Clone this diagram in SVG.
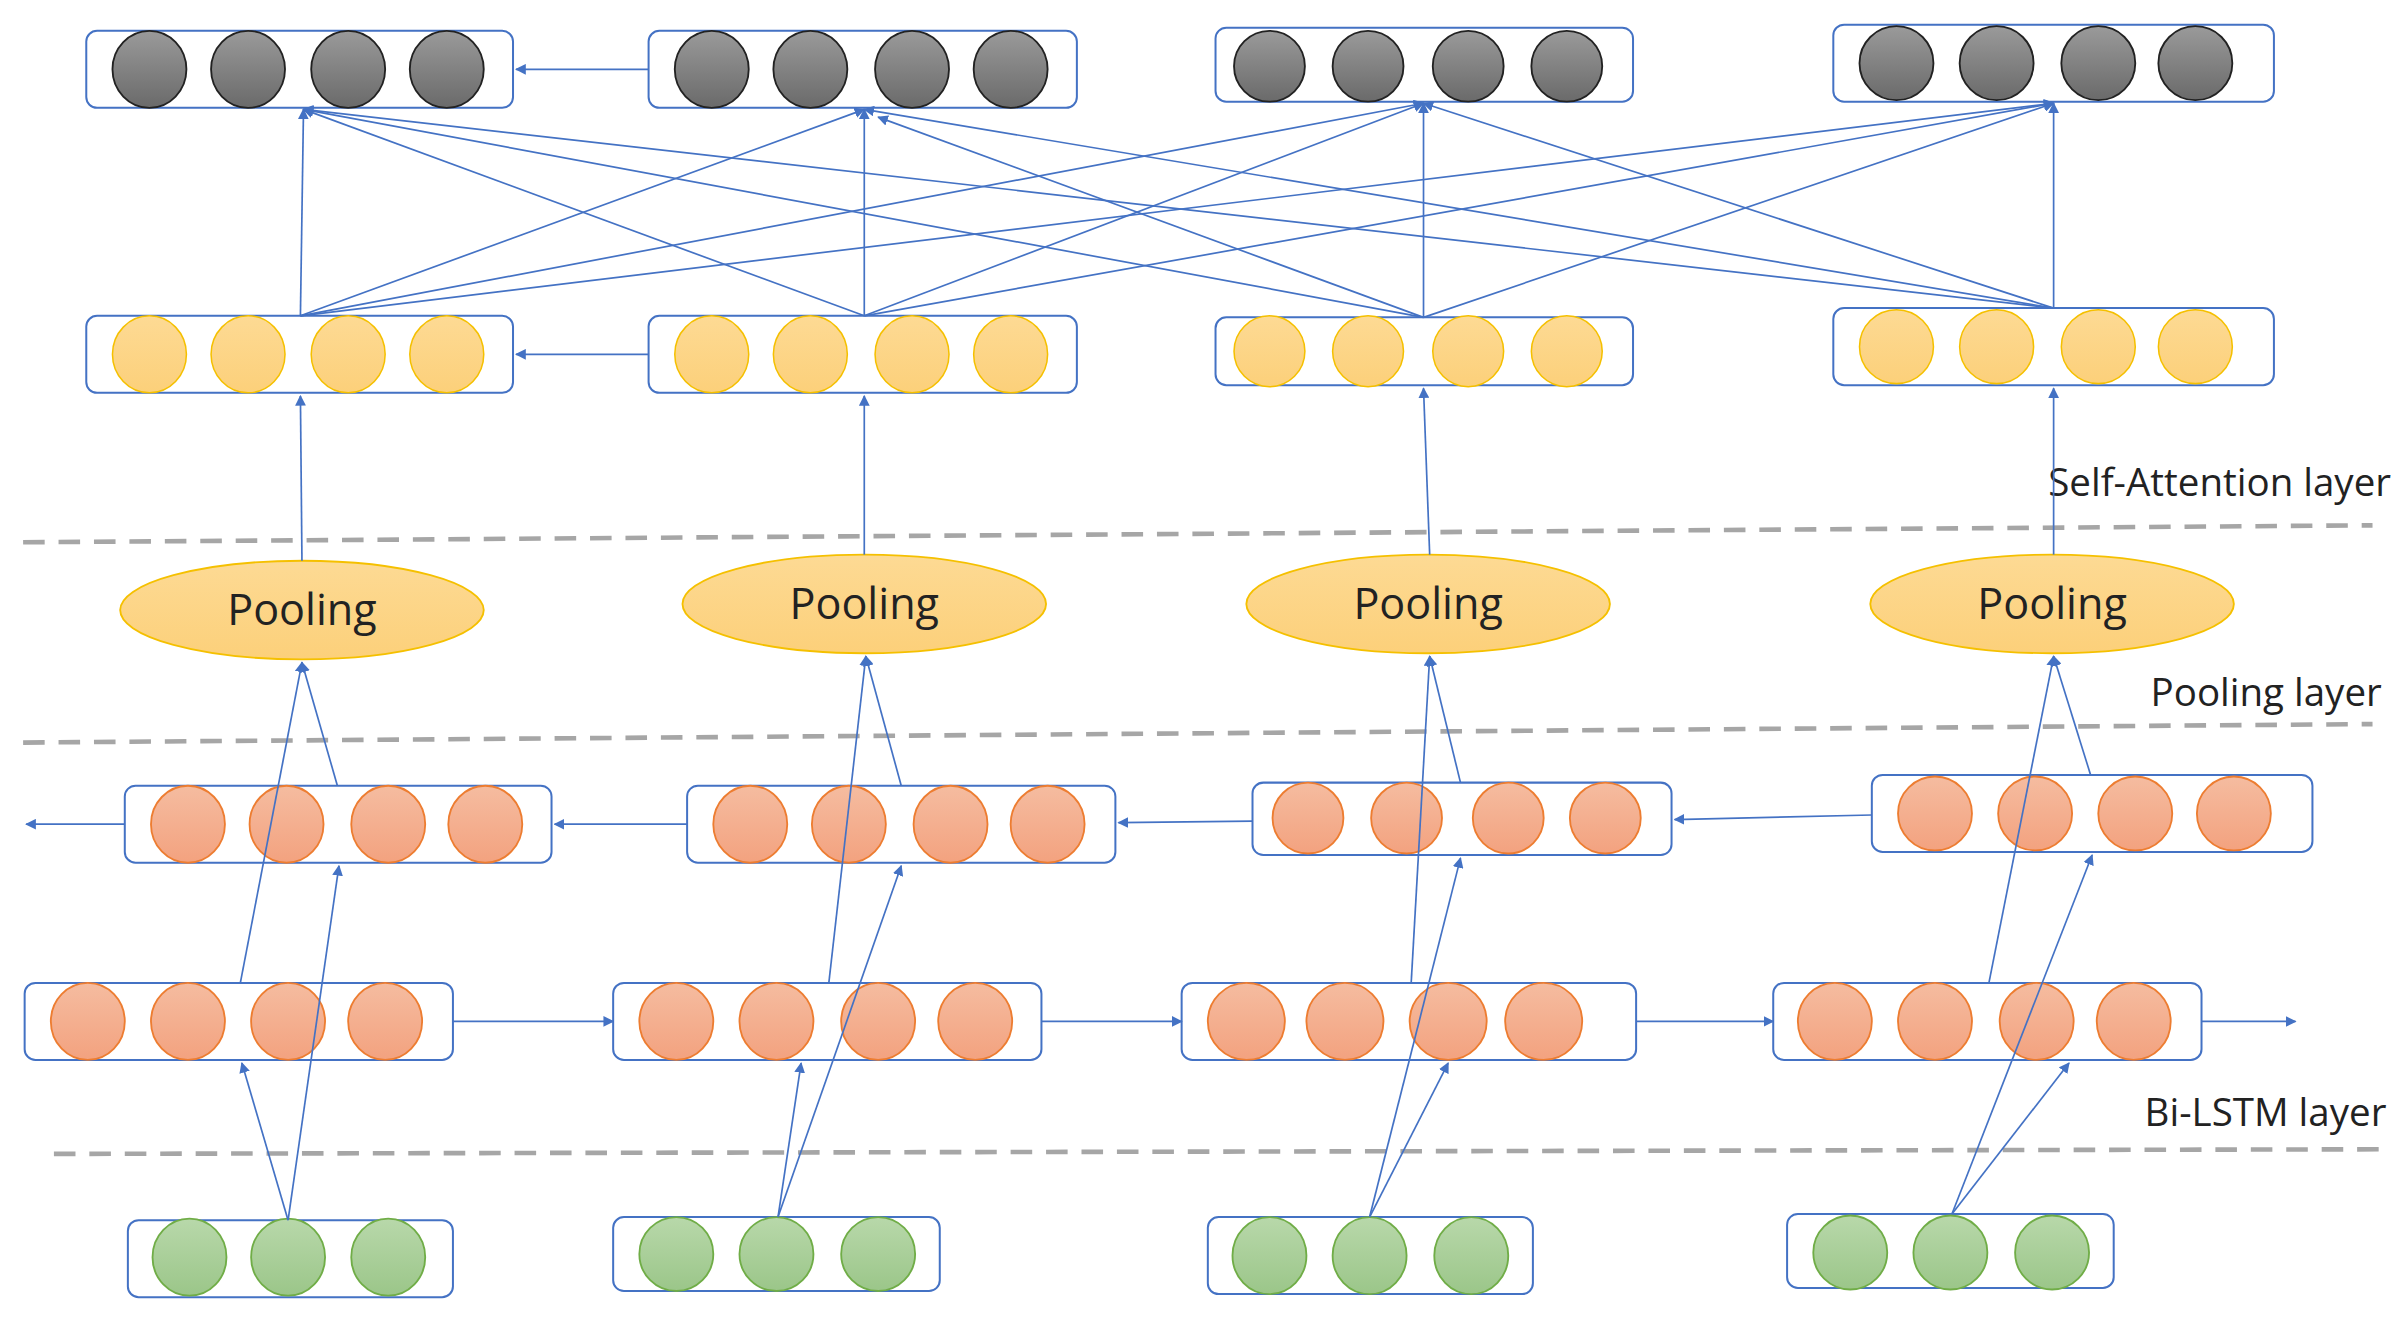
<svg xmlns="http://www.w3.org/2000/svg" width="2408" height="1323" viewBox="0 0 2408 1323">
<defs>
<linearGradient id="gg" x1="0" y1="0" x2="0" y2="1"><stop offset="0" stop-color="#9a9a9a"/><stop offset="1" stop-color="#6a6a6a"/></linearGradient>
<linearGradient id="gy" x1="0" y1="0" x2="0" y2="1"><stop offset="0" stop-color="#fdda94"/><stop offset="1" stop-color="#fcd07a"/></linearGradient>
<linearGradient id="go" x1="0" y1="0" x2="0" y2="1"><stop offset="0" stop-color="#f5bca0"/><stop offset="1" stop-color="#f3a27f"/></linearGradient>
<linearGradient id="gn" x1="0" y1="0" x2="0" y2="1"><stop offset="0" stop-color="#b8d8aa"/><stop offset="1" stop-color="#9bc689"/></linearGradient>
<marker id="a" viewBox="0 0 10 10" refX="9" refY="5" markerWidth="7" markerHeight="7" markerUnits="userSpaceOnUse" orient="auto"><path d="M0,0L10,5L0,10z" fill="#4472c4"/></marker>
</defs>
<style>
.box{fill:#fff;stroke:#4472c4;stroke-width:1.3}
.g{fill:url(#gg);stroke:#222;stroke-width:1.2}
.y{fill:url(#gy);stroke:#f5c000;stroke-width:1}
.o{fill:url(#go);stroke:#ed7d31;stroke-width:1.2}
.n{fill:url(#gn);stroke:#70ad47;stroke-width:1.2}
.pool{fill:url(#gy);stroke:#f5c000;stroke-width:1.2}
.c line{stroke:#4472c4;stroke-width:1.1;marker-end:url(#a)}
.d{stroke:#a6a6a6;stroke-width:3;stroke-dasharray:14 9;fill:none}
text{font-family:"Open Sans","Liberation Sans",sans-serif;fill:#222}
.pt{font-size:28px;text-anchor:middle}
.lt{font-size:25px;text-anchor:end}
</style>
<g transform="scale(1.5406)">
<g id="dividers">
<path class="d" d="M15,352L1540,341"/>
<path class="d" d="M15,482L1540,470"/>
<path class="d" d="M35,749L1550,746"/>
</g>
<g id="labels">
<text class="lt" x="1552" y="322">Self-Attention layer</text>
<text class="lt" x="1546" y="458">Pooling layer</text>
<text class="lt" x="1549" y="731">Bi-LSTM layer</text>
</g>
<g id="gray1"><rect class="box" x="56" y="20" width="277" height="50" rx="7"/><ellipse class="g" cx="97" cy="45" rx="24" ry="25"/><ellipse class="g" cx="161" cy="45" rx="24" ry="25"/><ellipse class="g" cx="226" cy="45" rx="24" ry="25"/><ellipse class="g" cx="290" cy="45" rx="24" ry="25"/></g>
<g id="gray2"><rect class="box" x="421" y="20" width="278" height="50" rx="7"/><ellipse class="g" cx="462" cy="45" rx="24" ry="25"/><ellipse class="g" cx="526" cy="45" rx="24" ry="25"/><ellipse class="g" cx="592" cy="45" rx="24" ry="25"/><ellipse class="g" cx="656" cy="45" rx="24" ry="25"/></g>
<g id="gray3"><rect class="box" x="789" y="18" width="271" height="48" rx="7"/><ellipse class="g" cx="824" cy="43" rx="23" ry="23"/><ellipse class="g" cx="888" cy="43" rx="23" ry="23"/><ellipse class="g" cx="953" cy="43" rx="23" ry="23"/><ellipse class="g" cx="1017" cy="43" rx="23" ry="23"/></g>
<g id="gray4"><rect class="box" x="1190" y="16" width="286" height="50" rx="7"/><ellipse class="g" cx="1231" cy="41" rx="24" ry="24"/><ellipse class="g" cx="1296" cy="41" rx="24" ry="24"/><ellipse class="g" cx="1362" cy="41" rx="24" ry="24"/><ellipse class="g" cx="1425" cy="41" rx="24" ry="24"/></g>
<g id="yel1"><rect class="box" x="56" y="205" width="277" height="50" rx="7"/><ellipse class="y" cx="97" cy="230" rx="24" ry="25"/><ellipse class="y" cx="161" cy="230" rx="24" ry="25"/><ellipse class="y" cx="226" cy="230" rx="24" ry="25"/><ellipse class="y" cx="290" cy="230" rx="24" ry="25"/></g>
<g id="yel2"><rect class="box" x="421" y="205" width="278" height="50" rx="7"/><ellipse class="y" cx="462" cy="230" rx="24" ry="25"/><ellipse class="y" cx="526" cy="230" rx="24" ry="25"/><ellipse class="y" cx="592" cy="230" rx="24" ry="25"/><ellipse class="y" cx="656" cy="230" rx="24" ry="25"/></g>
<g id="yel3"><rect class="box" x="789" y="206" width="271" height="44" rx="7"/><ellipse class="y" cx="824" cy="228" rx="23" ry="23"/><ellipse class="y" cx="888" cy="228" rx="23" ry="23"/><ellipse class="y" cx="953" cy="228" rx="23" ry="23"/><ellipse class="y" cx="1017" cy="228" rx="23" ry="23"/></g>
<g id="yel4"><rect class="box" x="1190" y="200" width="286" height="50" rx="7"/><ellipse class="y" cx="1231" cy="225" rx="24" ry="24"/><ellipse class="y" cx="1296" cy="225" rx="24" ry="24"/><ellipse class="y" cx="1362" cy="225" rx="24" ry="24"/><ellipse class="y" cx="1425" cy="225" rx="24" ry="24"/></g>
<g id="pool1"><ellipse class="pool" cx="196" cy="396" rx="118" ry="32"/><text class="pt" x="196" y="406">Pooling</text></g>
<g id="pool2"><ellipse class="pool" cx="561" cy="392" rx="118" ry="32"/><text class="pt" x="561" y="402">Pooling</text></g>
<g id="pool3"><ellipse class="pool" cx="927" cy="392" rx="118" ry="32"/><text class="pt" x="927" y="402">Pooling</text></g>
<g id="pool4"><ellipse class="pool" cx="1332" cy="392" rx="118" ry="32"/><text class="pt" x="1332" y="402">Pooling</text></g>
<g id="bwd1"><rect class="box" x="81" y="510" width="277" height="50" rx="7"/><ellipse class="o" cx="122" cy="535" rx="24" ry="25"/><ellipse class="o" cx="186" cy="535" rx="24" ry="25"/><ellipse class="o" cx="252" cy="535" rx="24" ry="25"/><ellipse class="o" cx="315" cy="535" rx="24" ry="25"/></g>
<g id="bwd2"><rect class="box" x="446" y="510" width="278" height="50" rx="7"/><ellipse class="o" cx="487" cy="535" rx="24" ry="25"/><ellipse class="o" cx="551" cy="535" rx="24" ry="25"/><ellipse class="o" cx="617" cy="535" rx="24" ry="25"/><ellipse class="o" cx="680" cy="535" rx="24" ry="25"/></g>
<g id="bwd3"><rect class="box" x="813" y="508" width="272" height="47" rx="7"/><ellipse class="o" cx="849" cy="531" rx="23" ry="23"/><ellipse class="o" cx="913" cy="531" rx="23" ry="23"/><ellipse class="o" cx="979" cy="531" rx="23" ry="23"/><ellipse class="o" cx="1042" cy="531" rx="23" ry="23"/></g>
<g id="bwd4"><rect class="box" x="1215" y="503" width="286" height="50" rx="7"/><ellipse class="o" cx="1256" cy="528" rx="24" ry="24"/><ellipse class="o" cx="1321" cy="528" rx="24" ry="24"/><ellipse class="o" cx="1386" cy="528" rx="24" ry="24"/><ellipse class="o" cx="1450" cy="528" rx="24" ry="24"/></g>
<g id="fwd1"><rect class="box" x="16" y="638" width="278" height="50" rx="7"/><ellipse class="o" cx="57" cy="663" rx="24" ry="25"/><ellipse class="o" cx="122" cy="663" rx="24" ry="25"/><ellipse class="o" cx="187" cy="663" rx="24" ry="25"/><ellipse class="o" cx="250" cy="663" rx="24" ry="25"/></g>
<g id="fwd2"><rect class="box" x="398" y="638" width="278" height="50" rx="7"/><ellipse class="o" cx="439" cy="663" rx="24" ry="25"/><ellipse class="o" cx="504" cy="663" rx="24" ry="25"/><ellipse class="o" cx="570" cy="663" rx="24" ry="25"/><ellipse class="o" cx="633" cy="663" rx="24" ry="25"/></g>
<g id="fwd3"><rect class="box" x="767" y="638" width="295" height="50" rx="7"/><ellipse class="o" cx="809" cy="663" rx="25" ry="25"/><ellipse class="o" cx="873" cy="663" rx="25" ry="25"/><ellipse class="o" cx="940" cy="663" rx="25" ry="25"/><ellipse class="o" cx="1002" cy="663" rx="25" ry="25"/></g>
<g id="fwd4"><rect class="box" x="1151" y="638" width="278" height="50" rx="7"/><ellipse class="o" cx="1191" cy="663" rx="24" ry="25"/><ellipse class="o" cx="1256" cy="663" rx="24" ry="25"/><ellipse class="o" cx="1322" cy="663" rx="24" ry="25"/><ellipse class="o" cx="1385" cy="663" rx="24" ry="25"/></g>
<g id="in1"><rect class="box" x="83" y="792" width="211" height="50" rx="7"/><ellipse class="n" cx="123" cy="816" rx="24" ry="25"/><ellipse class="n" cx="187" cy="816" rx="24" ry="25"/><ellipse class="n" cx="252" cy="816" rx="24" ry="25"/></g>
<g id="in2"><rect class="box" x="398" y="790" width="212" height="48" rx="7"/><ellipse class="n" cx="439" cy="814" rx="24" ry="24"/><ellipse class="n" cx="504" cy="814" rx="24" ry="24"/><ellipse class="n" cx="570" cy="814" rx="24" ry="24"/></g>
<g id="in3"><rect class="box" x="784" y="790" width="211" height="50" rx="7"/><ellipse class="n" cx="824" cy="815" rx="24" ry="25"/><ellipse class="n" cx="889" cy="815" rx="24" ry="25"/><ellipse class="n" cx="955" cy="815" rx="24" ry="25"/></g>
<g id="in4"><rect class="box" x="1160" y="788" width="212" height="48" rx="7"/><ellipse class="n" cx="1201" cy="813" rx="24" ry="24"/><ellipse class="n" cx="1266" cy="813" rx="24" ry="24"/><ellipse class="n" cx="1332" cy="813" rx="24" ry="24"/></g>
<g id="connectors" class="c">
<line x1="421" y1="45" x2="335" y2="45"/>
<line x1="421" y1="230" x2="335" y2="230"/>
<line x1="195" y1="205" x2="197" y2="71"/><line x1="195" y1="205" x2="561" y2="71"/><line x1="195" y1="205" x2="924" y2="67"/><line x1="195" y1="205" x2="1333" y2="67"/>
<line x1="561" y1="205" x2="197" y2="71"/><line x1="561" y1="205" x2="561" y2="71"/><line x1="561" y1="205" x2="924" y2="67"/><line x1="561" y1="205" x2="1333" y2="67"/>
<line x1="924" y1="206" x2="197" y2="71"/><line x1="924" y1="206" x2="570" y2="76"/><line x1="924" y1="206" x2="924" y2="67"/><line x1="924" y1="206" x2="1333" y2="67"/>
<line x1="1333" y1="200" x2="197" y2="71"/><line x1="1333" y1="200" x2="561" y2="71"/><line x1="1333" y1="200" x2="924" y2="67"/><line x1="1333" y1="200" x2="1333" y2="67"/>
<line x1="196" y1="364" x2="195" y2="257"/><line x1="561" y1="360" x2="561" y2="257"/><line x1="928" y1="360" x2="924" y2="252"/><line x1="1333" y1="360" x2="1333" y2="252"/>
<line x1="81" y1="535" x2="17" y2="535"/><line x1="446" y1="535" x2="360" y2="535"/><line x1="813" y1="533" x2="726" y2="534"/><line x1="1215" y1="529" x2="1087" y2="532"/>
<line x1="294" y1="663" x2="398" y2="663"/><line x1="676" y1="663" x2="767" y2="663"/><line x1="1062" y1="663" x2="1151" y2="663"/><line x1="1429" y1="663" x2="1490" y2="663"/>
<line x1="187" y1="792" x2="157" y2="690"/><line x1="187" y1="792" x2="220" y2="562"/><line x1="156" y1="638" x2="196" y2="430"/><line x1="219" y1="510" x2="196" y2="430"/>
<line x1="505" y1="790" x2="520" y2="690"/><line x1="505" y1="790" x2="585" y2="562"/><line x1="538" y1="638" x2="562" y2="426"/><line x1="585" y1="510" x2="562" y2="426"/>
<line x1="889" y1="790" x2="940" y2="690"/><line x1="889" y1="790" x2="948" y2="557"/><line x1="916" y1="638" x2="928" y2="426"/><line x1="948" y1="508" x2="928" y2="426"/>
<line x1="1267" y1="788" x2="1343" y2="690"/><line x1="1267" y1="788" x2="1358" y2="555"/><line x1="1291" y1="638" x2="1333" y2="426"/><line x1="1357" y1="503" x2="1333" y2="426"/>
</g>
</g>
</svg>
